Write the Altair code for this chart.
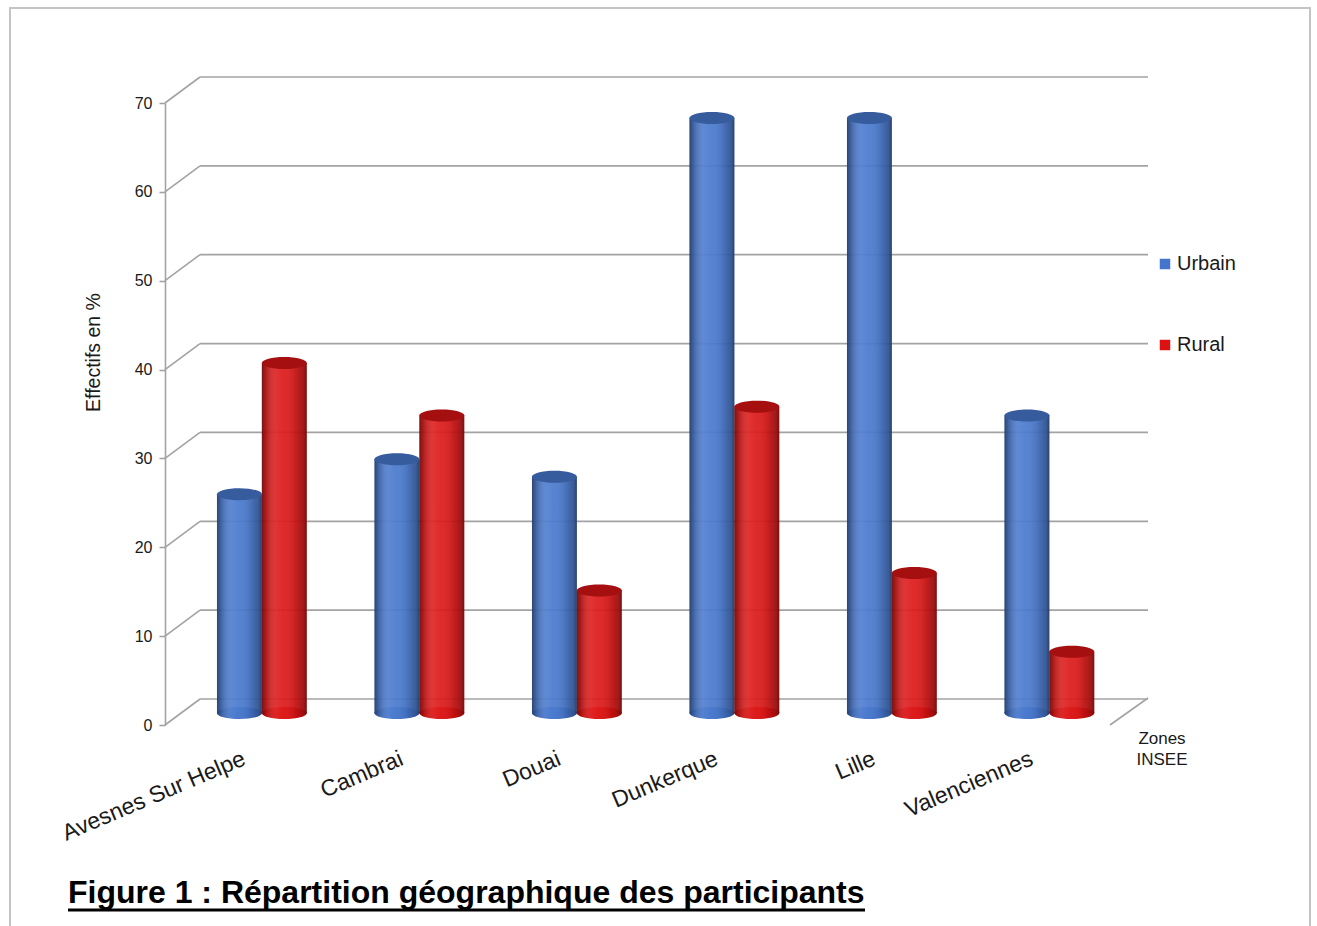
import altair as alt
import pandas as pd

# Répartition des participants par zone INSEE (en %)
zones = ["Avesnes Sur Helpe", "Cambrai", "Douai", "Dunkerque", "Lille", "Valenciennes"]
urbain = [25, 29, 27, 68, 68, 34]
rural = [40, 34, 14, 35, 16, 7]
series = ["Urbain", "Rural"]
y_ticks = [0, 10, 20, 30, 40, 50, 60, 70]

FONT = "Liberation Sans"
TEXT = "#1a1a1a"
BLUE, RED = "#4475cc", "#dc1212"
TOP_BLUE, TOP_RED = "#375c9e", "#a50f0f"
GRID = "#a3a3a3"

# flattened ellipse used for the top and bottom caps of each cylinder
ELLIPSE = ("M-1,0 C-1,-0.149 -0.552,-0.27 0,-0.27 C0.552,-0.27 1,-0.149 1,0 "
           "C1,0.149 0.552,0.27 0,0.27 C-0.552,0.27 -1,0.149 -1,0 Z")
CAP_SIZE = 2025  # (45 px)^2

# one row per cylinder; each zone spans one unit on the x scale
rows = []
for i, z in enumerate(zones):
    for s, vals, start in (("Urbain", urbain, 0.33), ("Rural", rural, 0.615)):
        rows.append({"zone": z, "serie": s, "valeur": vals[i], "base": 0,
                     "xa": i + start, "xb": i + start + 0.285, "xc": i + start + 0.1425})
bars = pd.DataFrame(rows)

grid = pd.DataFrame({"v": y_ticks, "x0": 0, "x1": len(zones)})
floor_edge = pd.DataFrame({"v": [0], "x0": [len(zones)]})
labels = pd.DataFrame({"zone": zones, "xc": [i + 0.5 for i in range(len(zones))]})
one = pd.DataFrame({"k": [0]})

xs = alt.Scale(domain=[0, len(zones)], nice=False, zero=False)
ys = alt.Scale(domain=[0, 70], nice=False)
# cylinders stand in the middle of the depth, slightly above the front axis
yb = alt.Scale(domain=[0, 70], range=[610, -2.5], nice=False)

series_color = alt.condition(alt.datum.serie == "Urbain", alt.value(BLUE), alt.value(RED))
top_color = alt.condition(alt.datum.serie == "Urbain", alt.value(TOP_BLUE), alt.value(TOP_RED))

shade = alt.LinearGradient(
    gradient="linear", x1=0, x2=1, y1=0, y2=0,
    stops=[
        alt.GradientStop(offset=0, color="rgba(0,0,0,0.45)"),
        alt.GradientStop(offset=0.08, color="rgba(0,0,0,0.24)"),
        alt.GradientStop(offset=0.32, color="rgba(255,255,255,0.08)"),
        alt.GradientStop(offset=0.48, color="rgba(255,255,255,0.03)"),
        alt.GradientStop(offset=0.75, color="rgba(0,0,0,0.10)"),
        alt.GradientStop(offset=0.93, color="rgba(0,0,0,0.28)"),
        alt.GradientStop(offset=1, color="rgba(0,0,0,0.48)"),
    ],
)

y_axis = alt.Axis(
    values=y_ticks, grid=False, title="Effectifs en %",
    domainColor=GRID, domainWidth=1.6, tickColor=GRID, tickWidth=1.6, tickSize=6,
    labelFont=FONT, labelFontSize=16, labelColor=TEXT, labelPadding=7,
    titleFont=FONT, titleFontSize=19.5, titleFontWeight="normal", titleColor=TEXT,
    titleX=-72, titleY=249, titleAngle=270, titleAlign="center", titleBaseline="middle",
)
x_axis = alt.Axis(
    values=list(range(len(zones) + 1)), labels=False, title=None, grid=False,
    domainColor=GRID, domainWidth=1.6, tickColor=GRID, tickWidth=1.6, tickSize=7,
)

frame = alt.Chart(one).mark_rect(fill="white", fillOpacity=0, stroke="#c4c4c4", strokeWidth=2).encode(
    x=alt.value(-155), x2=alt.value(1145), y=alt.value(-95), y2=alt.value(840)
)

# back wall gridlines, pushed back in depth
back_grid = alt.Chart(grid).mark_rule(
    color=GRID, strokeWidth=1.7, xOffset=35, x2Offset=38, yOffset=-26
).encode(
    x=alt.X("x0:Q", scale=xs, axis=x_axis),
    x2="x1:Q",
    y=alt.Y("v:Q", scale=ys, axis=y_axis),
)

# side wall diagonals joining the front axis to the back wall
side_grid = alt.Chart(grid).mark_rule(color=GRID, strokeWidth=1.6, x2Offset=35, y2Offset=-26).encode(
    x=alt.X("x0:Q", scale=xs, axis=None), x2="x0:Q",
    y=alt.Y("v:Q", scale=ys, axis=None), y2="v:Q",
)
floor_side = alt.Chart(floor_edge).mark_rule(color=GRID, strokeWidth=1.6, x2Offset=38, y2Offset=-27).encode(
    x=alt.X("x0:Q", scale=xs, axis=None), x2="x0:Q",
    y=alt.Y("v:Q", scale=ys, axis=None), y2="v:Q",
)

cyl = alt.Chart(bars)
bottom_cap = cyl.mark_point(shape=ELLIPSE, size=CAP_SIZE, filled=True, opacity=1, strokeWidth=0).encode(
    x=alt.X("xc:Q", scale=xs, axis=None),
    y=alt.Y("base:Q", scale=yb, axis=None),
    color=series_color,
)
bottom_shade = cyl.mark_point(shape=ELLIPSE, size=CAP_SIZE, filled=True, opacity=1, strokeWidth=0, color=shade).encode(
    x=alt.X("xc:Q", scale=xs, axis=None),
    y=alt.Y("base:Q", scale=yb, axis=None),
)
body = cyl.mark_bar(opacity=0.93).encode(
    x=alt.X("xa:Q", scale=xs, axis=None), x2="xb:Q",
    y=alt.Y("valeur:Q", scale=yb, axis=None), y2="base:Q",
    color=alt.Color(
        "serie:N",
        scale=alt.Scale(domain=series, range=[BLUE, RED]),
        legend=alt.Legend(
            orient="none", legendX=990, legendY=151, title=None, padding=0,
            symbolType="square", symbolSize=110, symbolStrokeWidth=0, symbolOpacity=1,
            labelFont=FONT, labelFontSize=20, labelColor=TEXT, labelOffset=2, rowPadding=61,
        ),
    ),
)
body_shade = cyl.mark_bar(color=shade).encode(
    x=alt.X("xa:Q", scale=xs, axis=None), x2="xb:Q",
    y=alt.Y("valeur:Q", scale=yb, axis=None), y2="base:Q",
)
top_cap = cyl.mark_point(shape=ELLIPSE, size=CAP_SIZE, filled=True, opacity=1, strokeWidth=0).encode(
    x=alt.X("xc:Q", scale=xs, axis=None),
    y=alt.Y("valeur:Q", scale=yb, axis=None),
    color=top_color,
)

zone_labels = alt.Chart(labels).mark_text(
    angle=337, align="right", baseline="top", font=FONT, fontSize=23, color=TEXT, dx=-4
).encode(
    x=alt.X("xc:Q", scale=xs, axis=None),
    y=alt.value(643),
    text="zone:N",
)

axis_name = alt.Chart(one).mark_text(
    text=["Zones", "INSEE"], font=FONT, fontSize=17, lineHeight=21, color=TEXT,
    align="center", baseline="top",
).encode(x=alt.value(997), y=alt.value(628))

caption = alt.Chart(one).mark_text(
    text="Figure 1 : Répartition géographique des participants",
    font=FONT, fontSize=32, fontWeight="bold", color="black", align="left", baseline="alphabetic",
).encode(x=alt.value(-97), y=alt.value(800))
caption_line = alt.Chart(one).mark_rule(color="black", strokeWidth=3).encode(
    x=alt.value(-97), x2=alt.value(700), y=alt.value(807)
)

chart = alt.layer(
    frame, back_grid, side_grid, floor_side,
    bottom_cap, bottom_shade, body, body_shade, top_cap,
    zone_labels, axis_name, caption, caption_line,
).resolve_scale(y="independent").properties(
    width=945, height=622, autosize="none",
    padding={"left": 165, "top": 103, "right": 207, "bottom": 201},
    background="white",
).configure_view(strokeWidth=0)

chart.save("out.html", embed_options={"renderer": "svg", "actions": False})
